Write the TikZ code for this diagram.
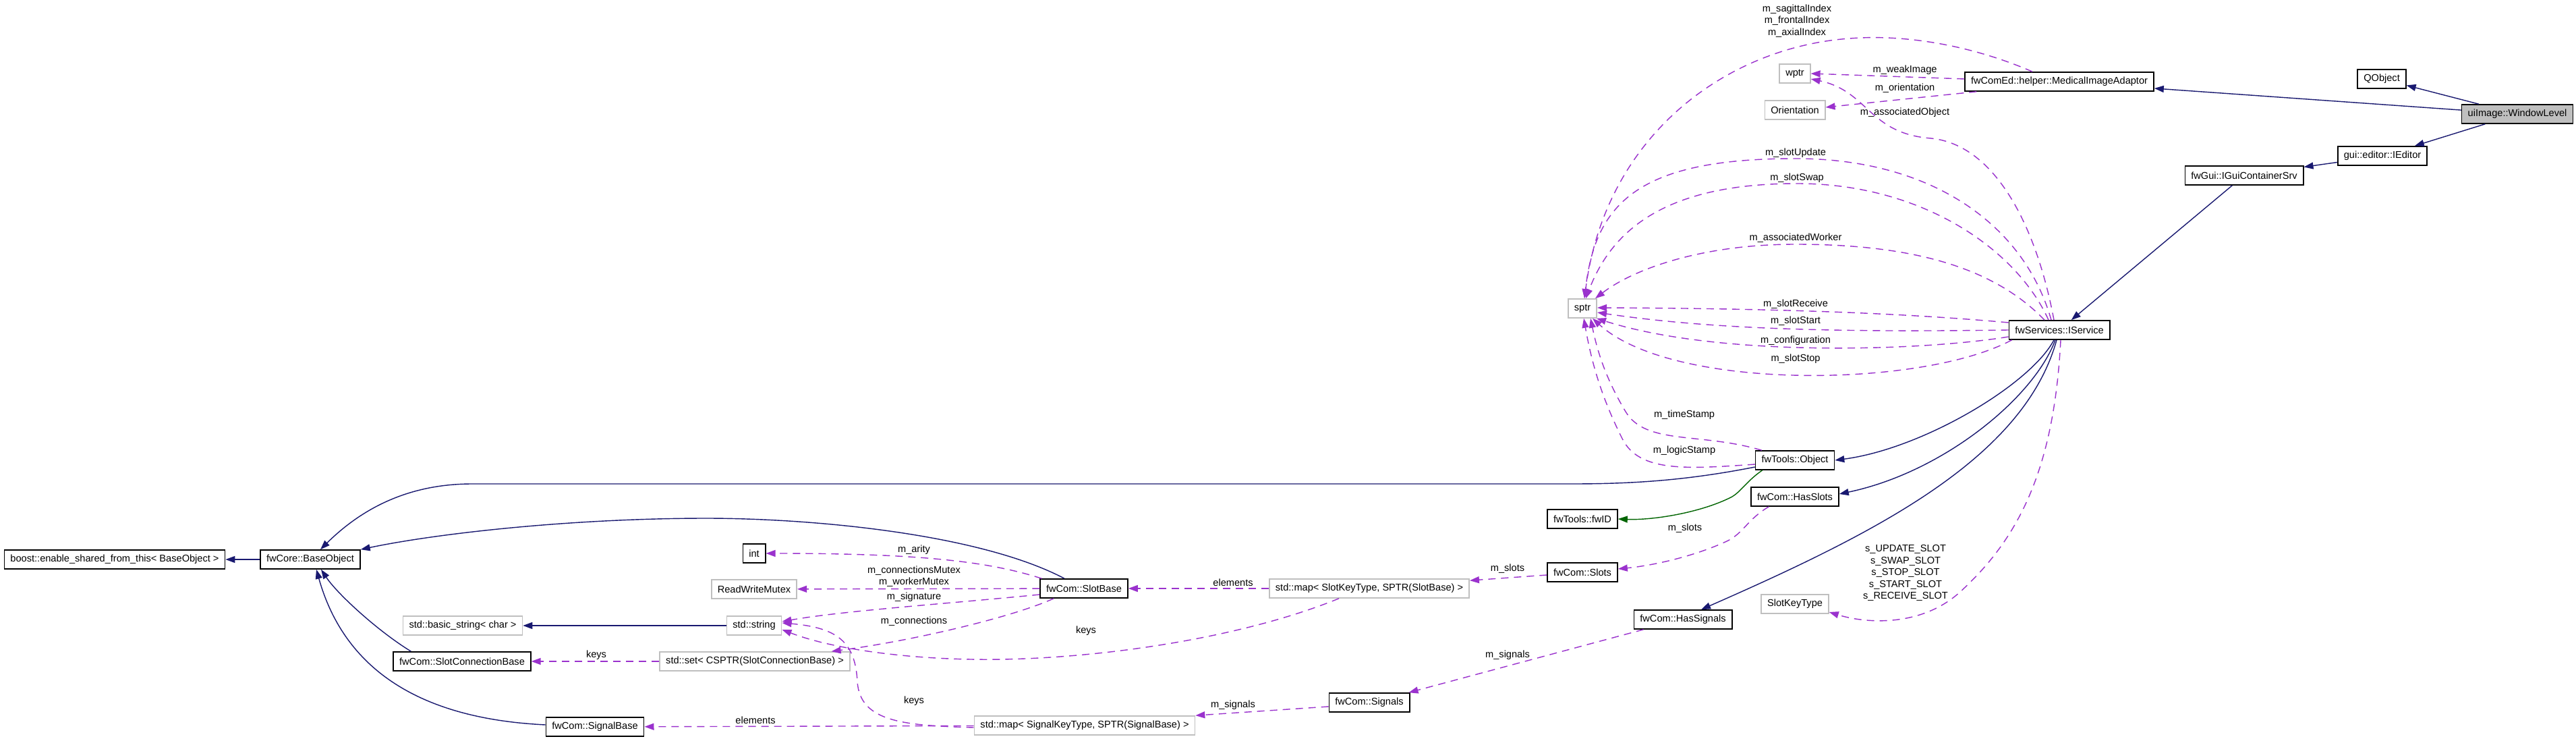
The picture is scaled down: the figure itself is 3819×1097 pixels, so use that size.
\documentclass[tikz,border=0pt]{standalone}
\usepackage{fontspec}
\setmainfont{Liberation Sans}
\usetikzlibrary{arrows.meta,calc}
\definecolor{navyc}{HTML}{191970}
\definecolor{orchidc}{HTML}{9A32CD}
\definecolor{greenc}{HTML}{006400}
\definecolor{grayb}{HTML}{BFBFBF}
\newcommand\dxfont{\fontsize{4.15}{5.0}\selectfont}
\tikzset{
  clsbox/.style={rectangle, minimum height=0.28cm, inner xsep=0.09cm, inner ysep=0pt, font=\dxfont, text=black, fill=white, line width=0.45pt},
  docbox/.style={clsbox, draw=black},
  undocbox/.style={clsbox, draw=grayb},
  lbl/.style={font=\dxfont, text=black, inner sep=0pt, align=center},
  tipstyle/.style={-{Triangle[length=0.14cm,width=0.1cm]}},
  inh/.style={tipstyle, draw=navyc, line width=0.4pt},
  usage/.style={tipstyle, draw=orchidc, line width=0.4pt, dash pattern=on 0.11cm off 0.08cm},
  comp/.style={tipstyle, draw=greenc, line width=0.4pt},
}
\begin{document}
\begin{tikzpicture}[x=0.01cm, y=-0.01cm]
\fill[white] (0,0) rectangle (3819,1097);
\useasboundingbox (0,0) rectangle (3819,1097);

% nodes
\node[docbox] (boost) at (170,829) {boost::enable\_shared\_from\_this< BaseObject >};
\node[docbox] (baseobj) at (460,829) {fwCore::BaseObject};
\node[undocbox] (basicstr) at (686,927) {std::basic\_string< char >};
\node[docbox] (slotconn) at (685,980) {fwCom::SlotConnectionBase};
\node[docbox] (sigbase) at (882,1077) {fwCom::SignalBase};
\node[docbox] (intn) at (1118,820) {int};
\node[undocbox] (rwm) at (1118,873) {ReadWriteMutex};
\node[undocbox] (stdstr) at (1118,927) {std::string};
\node[undocbox] (stdset) at (1119,980) {std::set< CSPTR(SlotConnectionBase) >};
\node[docbox] (slotbase) at (1607,872) {fwCom::SlotBase};
\node[undocbox] (mapslot) at (2030,872) {std::map< SlotKeyType, SPTR(SlotBase) >};
\node[undocbox] (mapsig) at (1608,1075) {std::map< SignalKeyType, SPTR(SignalBase) >};
\node[docbox] (signals) at (2030,1041) {fwCom::Signals};
\node[docbox] (slots) at (2346,848) {fwCom::Slots};
\node[docbox] (fwid) at (2346,769) {fwTools::fwID};
\node[docbox] (object) at (2661,682) {fwTools::Object};
\node[docbox] (hasslots) at (2661,736) {fwCom::HasSlots};
\node[docbox] (hassig) at (2495,918) {fwCom::HasSignals};
\node[undocbox] (skt) at (2661,895) {SlotKeyType};
\node[undocbox] (sptr) at (2346,457) {sptr};
\node[docbox] (iservice) at (3053,489) {fwServices::IService};
\node[docbox] (medimg) at (3053,121) {fwComEd::helper::MedicalImageAdaptor};
\node[undocbox] (wptr) at (2661,109) {wptr};
\node[undocbox] (orient) at (2661,163) {Orientation};
\node[docbox] (qobject) at (3531,117) {QObject};
\node[docbox, fill=grayb] (wl) at (3732,169) {uiImage::WindowLevel};
\node[docbox] (ieditor) at (3532,231) {gui::editor::IEditor};
\node[docbox] (iguicont) at (3327,260) {fwGui::IGuiContainerSrv};

% inheritance
\draw[inh] (wl) -- (qobject);
\draw[inh] (wl) -- (medimg);
\draw[inh] (wl) -- (ieditor);
\draw[inh] (ieditor) -- (iguicont);
\draw[inh] (iguicont) -- (iservice);
\draw[inh] ($(iservice.south)+(-8,0)$) .. controls (3010,570) and (2850,665) .. (object.east);
\draw[inh] ($(iservice.south)+(-6,0)$) .. controls (3015,590) and (2880,700) .. ($(hasslots.east)+(0,-4)$);
\draw[inh] ($(iservice.south)+(-4,0)$) .. controls (3000,680) and (2780,790) .. ($(hassig.north)+(27,0)$);
\draw[inh] ($(object.west)+(0,10)$) .. controls (2500,712) and (2420,717) .. (2330,717) -- (700,717) .. controls (610,717) and (540,750) .. ($(baseobj.north)+(15,0)$);
\draw[inh] ($(slotbase.north)+(-29,0)$) .. controls (1450,790) and (1200,768) .. (1047,768) .. controls (850,768) and (650,790) .. (baseobj.north east);
\draw[inh] ($(slotconn.north west)+(27,0)$) .. controls (560,935) and (500,880) .. ($(baseobj.south)+(16,0)$);
\draw[inh] ($(sigbase.west)+(0,-3)$) .. controls (620,1065) and (510,990) .. ($(baseobj.south)+(9,0)$);
\draw[inh] (stdstr) -- (basicstr);
\draw[inh] (baseobj) -- (boost);
\draw[comp] ($(object.south west)+(11,0)$) .. controls (2590,712) and (2580,730) .. (2566,737) .. controls (2520,760) and (2450,771) .. (fwid.east);

% usage
\draw[usage] ($(medimg.north)+(-40,0)$) .. controls (2930,70) and (2830,50) .. (2742,57) .. controls (2560,70) and (2380,200) .. ($(sptr.north)+(3,0)$);
\draw[usage] ($(medimg.west)+(0,-4)$) -- (wptr.east);
\draw[usage] ($(medimg.south west)+(18,0)$) -- ($(orient.east)+(0,-4)$);
\draw[usage] ($(iservice.north)+(-8,0)$) .. controls (3020,340) and (2960,215) .. (2863,205) .. controls (2770,198) and (2770,135) .. ($(wptr.east)+(0,8)$);
\draw[usage] ($(iservice.north)+(-12,0)$) .. controls (3000,330) and (2860,235) .. (2662,235) .. controls (2430,235) and (2365,300) .. ($(sptr.north)+(3,0)$);
\draw[usage] ($(iservice.north)+(-16,0)$) .. controls (2990,370) and (2850,272) .. (2664,272) .. controls (2470,272) and (2390,340) .. ($(sptr.north)+(5,0)$);
\draw[usage] ($(iservice.north)+(-22,0)$) .. controls (2950,390) and (2820,362) .. (2662,362) .. controls (2520,362) and (2420,400) .. ($(sptr.north east)+(-3,0)$);
\draw[usage] ($(iservice.west)+(0,-11)$) .. controls (2800,462) and (2600,457) .. ($(sptr.east)+(0,-1)$);
\draw[usage] (iservice.west) .. controls (2750,492) and (2550,490) .. ($(sptr.east)+(0,6)$);
\draw[usage] ($(iservice.west)+(0,10)$) .. controls (2850,520) and (2550,530) .. ($(sptr.south east)+(-1,0)$);
\draw[usage] ($(iservice.south west)+(5,0)$) .. controls (2850,575) and (2480,580) .. ($(sptr.south east)+(-7,0)$);
\draw[usage] ($(object.north west)+(10,0)$) .. controls (2520,640) and (2440,660) .. (2410,610) .. controls (2380,560) and (2368,520) .. ($(sptr.south)+(12,0)$);
\draw[usage] ($(object.west)+(0,6)$) .. controls (2500,695) and (2430,700) .. (2405,650) .. controls (2375,590) and (2360,540) .. ($(sptr.south)+(2,0)$);
\draw[usage] ($(hasslots.south west)+(27,0)$) .. controls (2590,770) and (2585,790) .. (2560,802) .. controls (2510,825) and (2450,838) .. ($(slots.east)+(0,-5)$);
\draw[usage] ($(slots.west)+(0,4)$) -- ($(mapslot.north east)+(0,3)$);
\draw[usage] (mapslot) -- (slotbase);
\draw[usage] ($(mapslot.south)+(-45,0)$) .. controls (1830,950) and (1600,980) .. (1440,977) .. controls (1330,975) and (1230,960) .. ($(stdstr.east)+(0,6)$);
\draw[usage] ($(slotbase.north west)+(3,0)$) .. controls (1460,830) and (1350,820) .. (intn.east);
\draw[usage] (slotbase) -- (rwm);
\draw[usage] ($(slotbase.west)+(0,9)$) .. controls (1400,895) and (1250,905) .. ($(stdstr.east)+(0,-6)$);
\draw[usage] ($(slotbase.south west)+(21,0)$) .. controls (1500,915) and (1350,950) .. ($(stdset.north east)+(-28,0)$);
\draw[usage] (stdset) -- (slotconn);
\draw[usage] (mapsig) -- (sigbase);
\draw[usage] ($(mapsig.west)+(0,3)$) .. controls (1340,1075) and (1275,1070) .. (1271,1010) .. controls (1268,950) and (1240,930) .. ($(stdstr.east)+(0,-4)$);
\draw[usage] ($(signals.west)+(0,6)$) -- (mapsig.north east);
\draw[usage] ($(hassig.south west)+(15,0)$) -- ($(signals.north east)+(-2,0)$);
\draw[usage] ($(iservice.south)+(2,0)$) .. controls (3045,700) and (2990,800) .. (2906,877) .. controls (2850,928) and (2770,925) .. ($(skt.east)+(0,12)$);

% labels
\node[lbl] (l1) at (2664,31) {m\_sagittalIndex\\m\_frontalIndex\\m\_axialIndex};
\node[lbl] (l2) at (2824,104) {m\_weakImage};
\node[lbl] (l3) at (2824,131) {m\_orientation};
\node[lbl] (l4) at (2824,167) {m\_associatedObject};
\node[lbl] (l5) at (2662,227) {m\_slotUpdate};
\node[lbl] (l6) at (2664,264) {m\_slotSwap};
\node[lbl] (l7) at (2662,353) {m\_associatedWorker};
\node[lbl] (l8) at (2662,451) {m\_slotReceive};
\node[lbl] (l9) at (2662,476) {m\_slotStart};
\node[lbl] (l10) at (2662,505) {m\_configuration};
\node[lbl] (l11) at (2662,532) {m\_slotStop};
\node[lbl] (l12) at (2497,615) {m\_timeStamp};
\node[lbl] (l13) at (2497,668) {m\_logicStamp};
\node[lbl] (l14) at (2498,783) {m\_slots};
\node[lbl] (l15) at (2825,849) {s\_UPDATE\_SLOT\\s\_SWAP\_SLOT\\s\_STOP\_SLOT\\s\_START\_SLOT\\s\_RECEIVE\_SLOT};
\node[lbl] (l16) at (1355,815) {m\_arity};
\node[lbl] (l17) at (1355,854) {m\_connectionsMutex\\m\_workerMutex};
\node[lbl] (l18) at (1355,885) {m\_signature};
\node[lbl] (l19) at (1355,921) {m\_connections};
\node[lbl] (l20) at (884,971) {keys};
\node[lbl] (l21) at (1355,1039) {keys};
\node[lbl] (l22) at (1120,1067) {elements};
\node[lbl] (l23) at (1828,863) {elements};
\node[lbl] (l24) at (2235,843) {m\_slots};
\node[lbl] (l25) at (1610,935) {keys};
\node[lbl] (l26) at (2235,971) {m\_signals};
\node[lbl] (l27) at (1828,1045) {m\_signals};
\end{tikzpicture}
\end{document}
